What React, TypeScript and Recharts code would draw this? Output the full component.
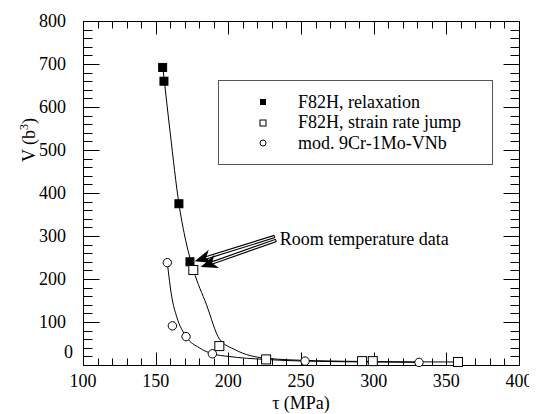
import React from "react";
import {
  ComposedChart,
  Line,
  Scatter,
  XAxis,
  YAxis,
  Legend,
  ReferenceLine,
  ReferenceDot,
} from "recharts";

// ---- data ----
const relaxTau = [154.8, 155.7, 166, 173.6];
const relaxV = [692, 660, 375, 240];

const jumpTau = [175.9, 193.8, 226, 292, 299.4, 358];
const jumpV = [221, 44, 13, 9, 9, 7];

const modTau = [158, 161.5, 170.9, 189, 252.8, 331.2];
const modV = [238, 91, 66, 26, 9, 6];

// fitted curves (hand-read)
const fitF82Tau = [155, 160, 166, 170, 176, 185, 194, 205, 225, 260, 300, 358];
const fitF82V = [690, 540, 375, 300, 221, 140, 60, 35, 16, 10, 8, 7];

const fitModTau = [158, 161, 164.5, 171, 180, 189, 200, 225, 253, 300, 331];
const fitModV = [238, 160, 112, 66, 40, 26, 20, 13, 9, 7, 6];

const xTicks = Array.from({ length: 31 }, (_, i) => 100 + i * 10);
const yTicks = Array.from({ length: 41 }, (_, i) => i * 20);
const xDomain = [100, 400];
const yDomain = [0, 800];

const seriesNames = [
  "F82H, relaxation",
  "F82H, strain rate jump",
  "mod. 9Cr-1Mo-VNb",
];
const annotationText = "Room temperature data";
const xTitle = "τ (MPa)";

const zip = (t: number[], v: number[]) => t.map((x, i) => ({ t: x, v: v[i] }));
const relaxData = zip(relaxTau, relaxV);
const jumpData = zip(jumpTau, jumpV);
const modData = zip(modTau, modV);
const fitF82Data = zip(fitF82Tau, fitF82V);
const fitModData = zip(fitModTau, fitModV);

// two interior reference points; the frame & tick marks are derived from
// their pixel positions, i.e. through the chart's own scales
const anchorA = { x: 200, y: 200 };
const anchorB = { x: 300, y: 600 };

const FONT = "'Liberation Serif', 'Times New Roman', serif";
const TXT = { fontFamily: FONT, fontSize: 18 };

const FilledSquare = (p: any) => (
  <rect x={p.cx - 4} y={p.cy - 4} width={8} height={8} fill="#000" stroke="#000" />
);
const OpenSquare = (p: any) => (
  <rect x={p.cx - 4.5} y={p.cy - 4.5} width={9} height={9} fill="#fff" stroke="#000" strokeWidth={1} />
);
const OpenCircle = (p: any) => (
  <circle cx={p.cx} cy={p.cy} r={4.2} fill="#fff" stroke="#000" strokeWidth={1} />
);

const FrameAndTicks = (p: any) => {
  const sx = (p.x2 - p.x1) / (anchorB.x - anchorA.x);
  const sy = (p.y2 - p.y1) / (anchorB.y - anchorA.y);
  const X = (t: number) => p.x1 + (t - anchorA.x) * sx;
  const Y = (v: number) => p.y1 + (v - anchorA.y) * sy;
  const L = Math.round(X(xDomain[0])) + 0.5;
  const R = Math.round(X(xDomain[1])) + 0.5;
  const T = Math.round(Y(yDomain[1])) + 0.5;
  const B = Math.round(Y(yDomain[0])) + 0.5;
  let d = `M${L},${T}H${R}V${B}H${L}Z`;
  xTicks.forEach((t) => {
    const l = t % 50 === 0 ? 13 : 7;
    const x = Math.round(X(t)) + 0.5;
    d += `M${x},${B}V${B - l}M${x},${T}V${T + l}`;
  });
  yTicks.forEach((v) => {
    const l = v % 100 === 0 ? 16 : 9;
    const y = Math.round(Y(v)) + 0.5;
    d += `M${L},${y}H${L + l}M${R},${y}H${R - l}`;
  });
  return <path d={d} stroke="#000" strokeWidth={1} fill="none" />;
};

const BottomTick = (p: any) => {
  const v = p.payload.value;
  if (v % 50 !== 0) return <g />;
  return (
    <text x={p.x} y={p.y + 22} textAnchor="middle" style={TXT} fill="#000">
      {v}
    </text>
  );
};
const LeftTick = (p: any) => {
  const v = p.payload.value;
  if (v % 100 !== 0) return <g />;
  const isZero = v === 0;
  return (
    <text
      x={p.x - (isZero ? 10 : 17)}
      y={p.y + 6 - (isZero ? 13 : 0)}
      textAnchor="end"
      style={TXT}
      fill="#000"
    >
      {v}
    </text>
  );
};

const Arrow = (p: any) => {
  const { x1, y1, x2, y2 } = p;
  const dx = x2 - x1;
  const dy = y2 - y1;
  const len = Math.sqrt(dx * dx + dy * dy) || 1;
  const ux = dx / len;
  const uy = dy / len;
  const hl = 17;
  const hw = 7;
  const bx = x2 - ux * hl;
  const by = y2 - uy * hl;
  const nx = bx + ux * 5;
  const ny = by + uy * 5;
  const pts = `${x2},${y2} ${bx - uy * hw},${by + ux * hw} ${nx},${ny} ${bx + uy * hw},${by - ux * hw}`;
  return (
    <g>
      <line x1={x1} y1={y1} x2={nx} y2={ny} stroke="#000" strokeWidth={3.5} />
      <line x1={x1 + ux} y1={y1 + uy} x2={nx} y2={ny} stroke="#fff" strokeWidth={1.2} />
      <polygon points={pts} fill="#000" />
    </g>
  );
};

const markerFor = [
  <rect x={2} y={2} width={6} height={6} fill="#000" />,
  <rect x={2} y={2} width={6} height={6} fill="#fff" stroke="#000" />,
  <circle cx={5} cy={5} r={3} fill="#fff" stroke="#000" />,
];

const LegendBox = () => (
  <div
    style={{
      border: "1px solid #555",
      background: "#fff",
      width: 273,
      height: 83,
      boxSizing: "content-box",
      fontFamily: FONT,
      fontSize: 18,
      color: "#000",
      position: "relative",
    }}
  >
    {seriesNames.map((n, i) => (
      <div
        key={n}
        style={{
          position: "absolute",
          left: 39,
          top: 10 + i * 20.5,
          height: 22,
          display: "flex",
          alignItems: "center",
          whiteSpace: "nowrap",
        }}
      >
        <svg width={10} height={10} style={{ marginRight: 30 }}>
          {markerFor[i]}
        </svg>
        <span>{n}</span>
      </div>
    ))}
  </div>
);

export default function App() {
  return (
    <ComposedChart
      width={529}
      height={406}
      margin={{ top: 13, right: 18, left: 15, bottom: 19 }}
      style={{ fontFamily: FONT }}
    >
      <XAxis
        type="number"
        dataKey="t"
        domain={xDomain}
        ticks={xTicks}
        interval={0}
        height={30}
        tickSize={0}
        tickMargin={0}
        tickLine={false}
        tick={<BottomTick />}
        axisLine={false}
        label={{
          content: (props: any) => {
            const vb = props.viewBox || { x: 75, y: 357, width: 436, height: 30 };
            return (
              <text x={vb.x + vb.width / 2} y={vb.y + 44} textAnchor="middle" style={TXT} fill="#000">
                {xTitle}
              </text>
            );
          },
        }}
      />
      <YAxis
        type="number"
        domain={yDomain}
        ticks={yTicks}
        interval={0}
        width={60}
        tickSize={0}
        tickMargin={0}
        tickLine={false}
        tick={<LeftTick />}
        axisLine={false}
        label={{
          content: (props: any) => {
            const vb = props.viewBox || { x: 15, y: 13, width: 60, height: 344 };
            const cx = vb.x + 12;
            const cy = vb.y + 119;
            return (
              <text transform={`translate(${cx},${cy}) rotate(-90)`} textAnchor="middle" style={TXT} fill="#000">
                V (b<tspan dy={-7} style={{ fontSize: 12 }}>3</tspan>
                <tspan dy={7}>)</tspan>
              </text>
            );
          },
        }}
      />

      <Line
        data={fitF82Data}
        dataKey="v"
        type="monotone"
        stroke="#000"
        strokeWidth={1}
        dot={false}
        activeDot={false}
        legendType="none"
        isAnimationActive={false}
      />
      <Line
        data={fitModData}
        dataKey="v"
        type="monotone"
        stroke="#000"
        strokeWidth={1}
        dot={false}
        activeDot={false}
        legendType="none"
        isAnimationActive={false}
      />
      <Scatter name={seriesNames[0]} data={relaxData} dataKey="v" shape={<FilledSquare />} isAnimationActive={false} />
      <Scatter name={seriesNames[1]} data={jumpData} dataKey="v" shape={<OpenSquare />} isAnimationActive={false} />
      <Scatter name={seriesNames[2]} data={modData} dataKey="v" shape={<OpenCircle />} isAnimationActive={false} />

      {/* frame and inward tick marks on all four sides */}
      <ReferenceLine segment={[anchorA, anchorB]} ifOverflow="visible" shape={<FrameAndTicks />} />

      <ReferenceLine
        segment={[
          { x: 232, y: 299 },
          { x: 176.8, y: 241 },
        ]}
        ifOverflow="visible"
        shape={<Arrow />}
      />
      <ReferenceLine
        segment={[
          { x: 233, y: 290 },
          { x: 181, y: 228 },
        ]}
        ifOverflow="visible"
        shape={<Arrow />}
      />
      <ReferenceDot
        x={232}
        y={290}
        r={0}
        ifOverflow="visible"
        shape={(p: any) => (
          <text x={p.cx + 5} y={p.cy + 5} style={TXT} fill="#000">
            {annotationText}
          </text>
        )}
      />

      <Legend
        layout="vertical"
        align="center"
        verticalAlign="middle"
        content={<LegendBox />}
        wrapperStyle={{ left: 210, top: 72, width: 275, height: 85 }}
      />
    </ComposedChart>
  );
}
